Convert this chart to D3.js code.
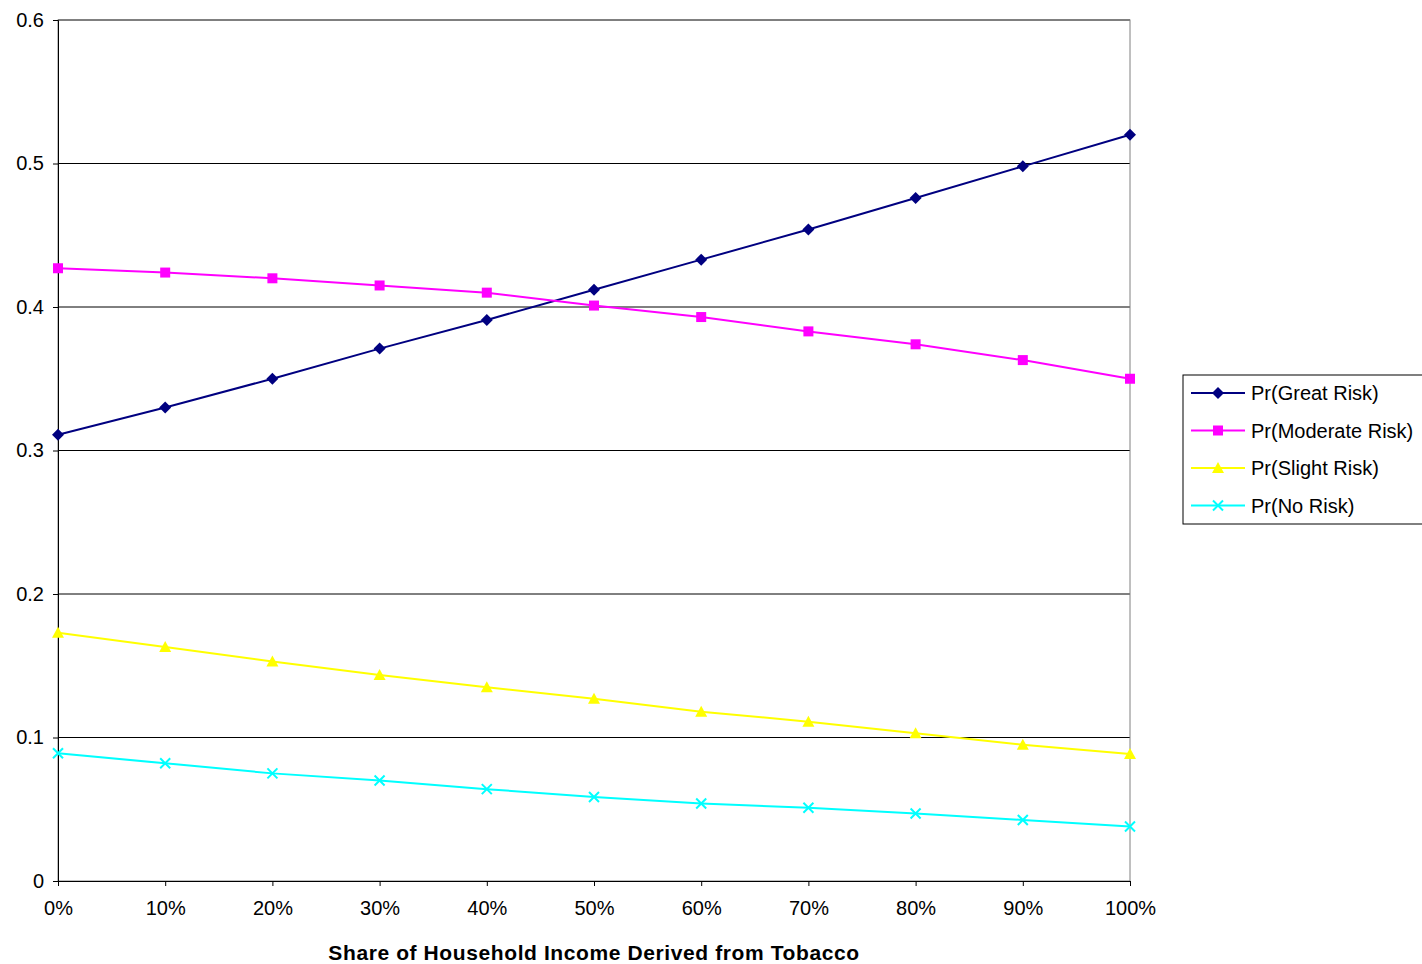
<!DOCTYPE html>
<html><head><meta charset="utf-8">
<script src="https://cdn.jsdelivr.net/npm/d3@7"></script>
<style>body{margin:0;background:#fff}text{font-family:Arial,"Liberation Sans",sans-serif}</style>
</head><body><svg id="c" width="1422" height="964"></svg>
<script>
const categories=[0,0.1,0.2,0.3,0.4,0.5,0.6,0.7,0.8,0.9,1.0];
const greatRisk=[0.311,0.330,0.350,0.371,0.391,0.412,0.433,0.454,0.476,0.498,0.520];
const moderateRisk=[0.427,0.424,0.420,0.415,0.410,0.401,0.393,0.383,0.374,0.363,0.350];
const slightRisk=[0.173,0.163,0.153,0.1435,0.135,0.127,0.118,0.111,0.103,0.095,0.0885];
const noRisk=[0.089,0.082,0.075,0.070,0.064,0.0585,0.054,0.051,0.047,0.0425,0.038];
const yTicks=[0,0.1,0.2,0.3,0.4,0.5,0.6];
const series=[
 {name:"Pr(Great Risk)",v:greatRisk,c:"#000080",m:"diamond"},
 {name:"Pr(Moderate Risk)",v:moderateRisk,c:"#ff00ff",m:"square"},
 {name:"Pr(Slight Risk)",v:slightRisk,c:"#ffff00",m:"triangle"},
 {name:"Pr(No Risk)",v:noRisk,c:"#00ffff",m:"x"}];
const svg=d3.select("#c");
const x=d3.scaleLinear().domain([0,1]).range([58,1130]);
const y=d3.scaleLinear().domain([0,0.6]).range([881,20]);
yTicks.forEach(t=>{if(t>0)svg.append("line").attr("x1",58).attr("x2",1130).attr("y1",y(t)).attr("y2",y(t)).attr("stroke","#000").attr("stroke-width",1);});
svg.append("rect").attr("x",58).attr("y",20).attr("width",1072).attr("height",861).attr("fill","none").attr("stroke","#808080");
const ya=svg.append("g").attr("transform","translate(58,0)").call(d3.axisLeft(y).tickValues(yTicks).tickSize(5).tickFormat(d=>d===0?"0":d3.format(".1f")(d)));
const xa=svg.append("g").attr("transform","translate(0,881)").call(d3.axisBottom(x).tickValues(categories).tickSize(5).tickFormat(d3.format(".0%")));
[ya,xa].forEach(a=>{a.select(".domain").attr("stroke","#000");a.selectAll("line").attr("stroke","#000");a.selectAll("text").attr("font-size",20).attr("fill","#000");});
ya.selectAll("text").attr("x",-14);
xa.selectAll("text").attr("y",20);
svg.append("text").attr("x",594).attr("y",960).attr("text-anchor","middle").attr("font-size",21).attr("letter-spacing",0.6).attr("font-weight","bold").text("Share of Household Income Derived from Tobacco");
function marker(g,type,c){
 if(type==="diamond")g.append("path").attr("d","M0,-6L6,0L0,6L-6,0Z").attr("fill",c);
 else if(type==="square")g.append("rect").attr("x",-5).attr("y",-5).attr("width",10).attr("height",10).attr("fill",c);
 else if(type==="triangle")g.append("path").attr("d","M0,-6L6,5L-6,5Z").attr("fill",c);
 else g.append("path").attr("d","M-5,-5L5,5M-5,5L5,-5").attr("stroke",c).attr("stroke-width",2);
}
const line=d3.line().x((d,i)=>x(categories[i])).y(d=>y(d));
series.forEach(s=>{
 svg.append("path").attr("d",line(s.v)).attr("fill","none").attr("stroke",s.c).attr("stroke-width",2);
 s.v.forEach((d,i)=>marker(svg.append("g").attr("transform",`translate(${x(categories[i])},${y(d)})`),s.m,s.c));
});
const lg=svg.append("g");
lg.append("rect").attr("x",1183).attr("y",375).attr("width",245).attr("height",149).attr("fill","#fff").attr("stroke","#000");
series.forEach((s,i)=>{
 const yy=393+i*37.5;
 lg.append("line").attr("x1",1191).attr("x2",1245).attr("y1",yy).attr("y2",yy).attr("stroke",s.c).attr("stroke-width",2);
 marker(lg.append("g").attr("transform",`translate(1218,${yy})`),s.m,s.c);
 lg.append("text").attr("x",1251).attr("y",yy+7).attr("font-size",20).text(s.name);
});
</script></body></html>
